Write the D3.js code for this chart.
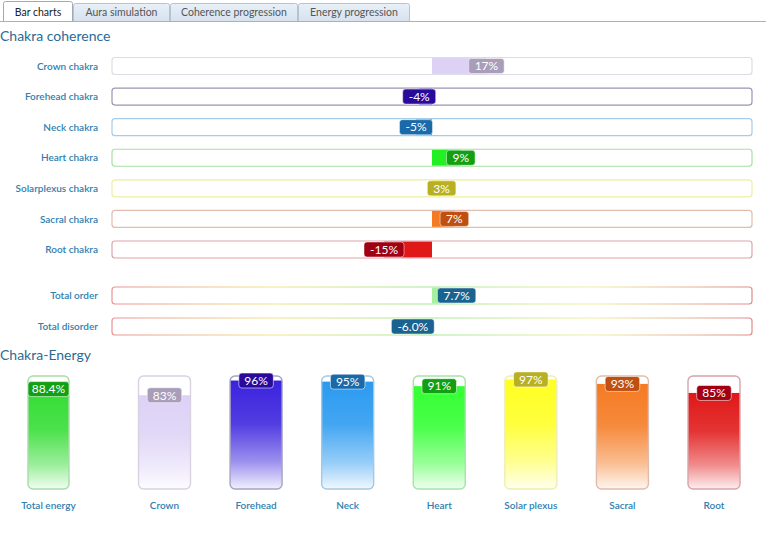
<!DOCTYPE html>
<html><head><meta charset="utf-8">
<script src="https://cdn.jsdelivr.net/npm/d3@7"></script>
<style>
body{margin:0;background:#fff}
svg{display:block}
text{font-family:Lato,"Open Sans",sans-serif}
</style></head>
<body><svg id="c" width="768" height="541"></svg>
<script>
// ---------- data ----------
const tabLabels = ["Bar charts", "Aura simulation", "Coherence progression", "Energy progression"];
const coherenceLabels = ["Crown chakra", "Forehead chakra", "Neck chakra", "Heart chakra", "Solarplexus chakra", "Sacral chakra", "Root chakra"];
const coherenceValues = [17, -4, -5, 9, 3, 7, -15];
const totalLabels = ["Total order", "Total disorder"];
const totalValues = [7.7, -6.0];
const energyLabels = ["Total energy", "Crown", "Forehead", "Neck", "Heart", "Solar plexus", "Sacral", "Root"];
const energyValues = [88.4, 83, 96, 95, 91, 97, 93, 85];

// ---------- styles ----------
const chakraFill   = ["#ddd2f6", "#3a22dd", "#2a9af0", "#22f022", "#f4f420", "#f57a22", "#e01818"];
const chakraBadge  = ["#a99db9", "#2a0a9a", "#1a6aaa", "#12a012", "#b8b020", "#c05012", "#a00012"];
const chakraBorder = ["#dcdce6", "#9c94b4", "#a6cce8", "#a8e0a4", "#eeeea0", "#e2bcac", "#e0a4ac"];
const totalFill = ["#a6f0a0", "#a6f0a0"];
const totalBadge = "#1a6290";
const energyFill   = ["#33dd33", "#ddd2f6", "#3a22dd", "#2a9af0", "#33ff33", "#ffff22", "#f57a22", "#e01818"];
const energyBadge  = ["#12a012"].concat(chakraBadge);
const energyBorder = ["#a8dca8", "#d8d2e2", "#a4a4c4", "#a4c8e0", "#a8e2a8", "#eeeeb0", "#e0bcac", "#d8a4ac"];
const labelColor = "#2f7fb0";
const titleColor = "#2c6a92";

const svg = d3.select("#c");
const defs = svg.append("defs");

// ---------- tabs ----------
const tabEdges = [3, 73, 170, 298, 410];
const tabG = svg.append("g");
const tg = defs.append("linearGradient").attr("id","tabg").attr("x1",0).attr("y1",0).attr("x2",0).attr("y2",1);
tg.append("stop").attr("offset","0%").attr("stop-color","#e8f0f8");
tg.append("stop").attr("offset","100%").attr("stop-color","#d6e2ee");
svg.append("line").attr("x1",0).attr("x2",766).attr("y1",21.5).attr("y2",21.5).attr("stroke","#a6b2be");
tabLabels.forEach((t,i)=>{
  const x0 = tabEdges[i], x1 = tabEdges[i+1];
  const active = i===0;
  const top = active ? 1.5 : 3.5;
  tabG.append("path")
    .attr("d", `M${x0+0.5},${active?22:21.5} L${x0+0.5},${top+2} Q${x0+0.5},${top} ${x0+2.5},${top} L${x1-2.5},${top} Q${x1-0.5},${top} ${x1-0.5},${top+2} L${x1-0.5},${active?22:21.5}`)
    .attr("fill", active ? "#fff" : "url(#tabg)")
    .attr("stroke", active ? "#a0aab6" : "#b6c4d2");
  if (active) tabG.append("rect").attr("x",x0+1).attr("y",21).attr("width",x1-x0-2).attr("height",2).attr("fill","#fff");
  tabG.append("text").attr("x",(x0+x1)/2).attr("y",15.5).attr("text-anchor","middle")
    .attr("font-size",10.5).attr("fill", active ? "#222" : "#555").text(t);
});

// ---------- titles ----------
svg.append("text").attr("x",0).attr("y",41).attr("font-size",14).attr("fill",titleColor).text("Chakra coherence");
svg.append("text").attr("x",0).attr("y",360).attr("font-size",14).attr("fill",titleColor).text("Chakra-Energy");

// ---------- horizontal coherence bars ----------
const x = d3.scaleLinear().domain([-100, 100]).range([112, 752]);
const yC = d3.scaleLinear().domain([0, coherenceValues.length-1]).range([66, 249.5]);
const yT = d3.scaleLinear().domain([0, 1]).range([295.5, 326.5]);
const barH = 17;

const tot = defs.append("linearGradient").attr("id","totb").attr("gradientUnits","userSpaceOnUse")
  .attr("x1",x(-100)).attr("x2",x(100)).attr("y1",0).attr("y2",0);
[["0%","#e89494"],["25%","#f2e48a"],["50%","#a4e896"],["75%","#f2f0a2"],["100%","#e08a8a"]]
  .forEach(s=>tot.append("stop").attr("offset",s[0]).attr("stop-color",s[1]));

function hbar(g, y, v, fill, badge, border, label){
  g.append("text").attr("x",98).attr("y",y+3.6).attr("text-anchor","end")
    .attr("font-size",10).attr("font-weight",600).attr("fill",labelColor).text(label);
  g.append("rect").attr("x",x(-100)).attr("y",y-barH/2).attr("width",x(100)-x(-100)).attr("height",barH)
    .attr("rx",3).attr("fill","#fff").attr("stroke",border).attr("stroke-width",1.2);
  g.append("rect").attr("x",Math.min(x(0),x(v))).attr("y",y-barH/2+0.6).attr("width",Math.abs(x(v)-x(0)))
    .attr("height",barH-1.2).attr("fill",fill);
  const txt = (Number.isInteger(v) && label.indexOf("Total")<0) ? v+"%" : v.toFixed(1)+"%";
  const t = g.append("text").attr("x",x(v)).attr("y",y+4.3).attr("text-anchor","middle")
    .attr("font-size",12).attr("fill","#fff").text(txt);
  const w = t.node().getComputedTextLength() + 12;
  g.insert("rect", () => t.node()).attr("x",x(v)-w/2).attr("y",y-7.5).attr("width",w).attr("height",15)
    .attr("rx",3).attr("fill",badge).attr("stroke","rgba(255,255,255,0.6)").attr("stroke-width",0.8);
}
const gH = svg.append("g");
coherenceValues.forEach((v,i)=>hbar(gH, yC(i), v, chakraFill[i], chakraBadge[i], chakraBorder[i], coherenceLabels[i]));
totalValues.forEach((v,i)=>hbar(gH, yT(i), v, totalFill[i], totalBadge, "url(#totb)", totalLabels[i]));

// ---------- vertical energy bars ----------
const yE = d3.scaleLinear().domain([0, 100]).range([489, 376]);
const xE = d3.scalePoint().domain(energyLabels.slice(1)).range([164.5, 714]);
const colX = d => d === energyLabels[0] ? 48.5 : xE(d);
const colW = d => d === energyLabels[0] ? 41 : 52;

const gV = svg.append("g");
energyLabels.forEach((lab,i)=>{
  const cx = colX(lab), w = colW(lab), v = energyValues[i];
  const grad = defs.append("linearGradient").attr("id","eg"+i).attr("x1",0).attr("y1",0).attr("x2",0).attr("y2",1);
  const c = d3.color(energyFill[i]);
  grad.append("stop").attr("offset","0%").attr("stop-color",c);
  grad.append("stop").attr("offset","40%").attr("stop-color",d3.interpolateRgb(c,"#fff")(0.12));
  grad.append("stop").attr("offset","75%").attr("stop-color",d3.interpolateRgb(c,"#fff")(0.5));
  grad.append("stop").attr("offset","100%").attr("stop-color",d3.interpolateRgb(c,"#fff")(0.93));
  const clipId = "cl"+i;
  defs.append("clipPath").attr("id",clipId).append("rect")
    .attr("x",cx-w/2).attr("y",yE(100)).attr("width",w).attr("height",yE(0)-yE(100)).attr("rx",5);
  gV.append("rect").attr("x",cx-w/2).attr("y",yE(100)).attr("width",w).attr("height",yE(0)-yE(100))
    .attr("rx",5).attr("fill","#fff");
  gV.append("rect").attr("clip-path",`url(#${clipId})`).attr("x",cx-w/2).attr("y",yE(v)).attr("width",w)
    .attr("height",yE(0)-yE(v)).attr("fill",`url(#eg${i})`);
  gV.append("rect").attr("x",cx-w/2).attr("y",yE(100)).attr("width",w).attr("height",yE(0)-yE(100))
    .attr("rx",5).attr("fill","none").attr("stroke",energyBorder[i]).attr("stroke-width",1.4);
  const t = gV.append("text").attr("x",cx).attr("y",yE(v)+4.3).attr("text-anchor","middle")
    .attr("font-size",12).attr("fill","#fff").text((Number.isInteger(v)? v : v.toFixed(1))+"%");
  const bw = Math.min(w, t.node().getComputedTextLength()+11);
  gV.insert("rect", () => t.node()).attr("x",cx-bw/2).attr("y",yE(v)-7.5).attr("width",bw).attr("height",15)
    .attr("rx",3).attr("fill",energyBadge[i]).attr("stroke","rgba(255,255,255,0.7)").attr("stroke-width",0.8);
  gV.append("text").attr("x",cx).attr("y",509).attr("text-anchor","middle")
    .attr("font-size",10).attr("font-weight",600).attr("fill",labelColor).text(lab);
});
</script></body></html>
